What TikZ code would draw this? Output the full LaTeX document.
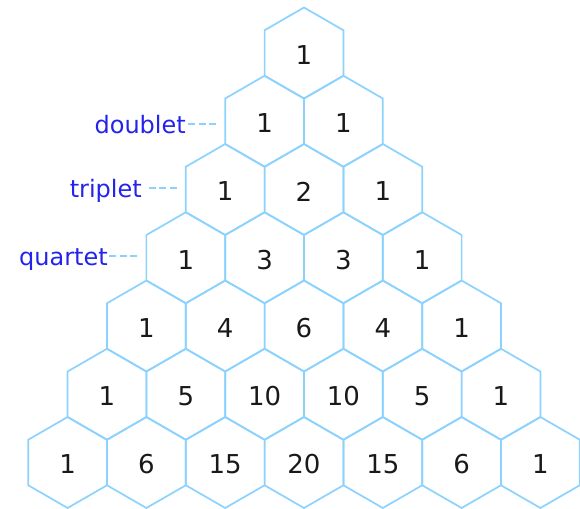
\documentclass[tikz,border=0pt]{standalone}
\usepackage{fontspec}
\setmainfont{DejaVu Sans}
\usetikzlibrary{shapes.geometric}
\definecolor{hexline}{RGB}{140,210,255}
\definecolor{labelblue}{RGB}{35,35,235}
\definecolor{numcol}{RGB}{25,25,25}
\begin{document}
\begin{tikzpicture}[x=1pt,y=-1pt,
  hex/.style={regular polygon, regular polygon sides=6, shape border rotate=30,
    minimum size=91pt, inner sep=0pt, outer sep=0pt, draw=hexline, line width=1.7pt},
  num/.style={font=\fontsize{26}{26}\selectfont, text=numcol, inner sep=0pt},
  lab/.style={font=\fontsize{24}{24}\selectfont, text=labelblue, inner sep=0pt, anchor=base east},
  dashline/.style={draw=hexline, line width=1.6pt, dash pattern=on 7pt off 3.5pt}]
\useasboundingbox (0,0) rectangle (580,508);
\foreach \r/\vals in {0/{1},1/{1,1},2/{1,2,1},3/{1,3,3,1},4/{1,4,6,4,1},5/{1,5,10,10,5,1},6/{1,6,15,20,15,6,1}}{
  \foreach \v [count=\c from 0] in \vals {
    \node[hex] (h\r-\c) at ({304+(\c-\r/2)*78.8},{53+\r*68.25}) {};
    \node[num] (n\r-\c) at ([yshift=-2pt]h\r-\c.center) {\v};
  }
}
\node[lab] (dl) at (186,133) {doublet};
\node[lab] (tl) at (142,197) {triplet};
\node[lab] (ql) at (108,265) {quartet};
\coordinate (de) at ([xshift=-9pt]h1-0.west |- 0,124);
\coordinate (te) at ([xshift=-9pt]h2-0.west |- 0,188);
\coordinate (qe) at ([xshift=-9pt]h3-0.west |- 0,256);
\draw[dashline] ([xshift=-28pt]de) -- (de);
\draw[dashline] ([xshift=-28pt]te) -- (te);
\draw[dashline] ([xshift=-28pt]qe) -- (qe);
\end{tikzpicture}
\end{document}
